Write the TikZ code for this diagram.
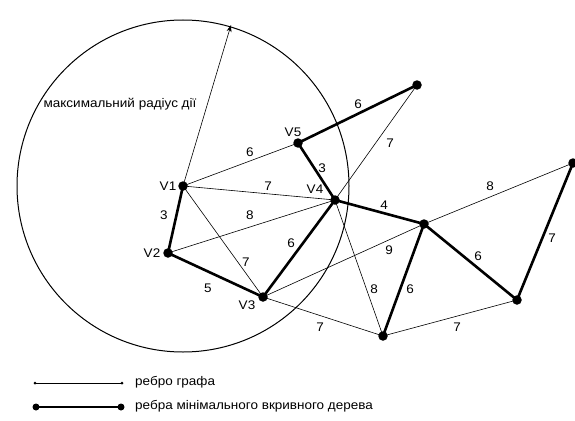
\documentclass[tikz,border=0pt]{standalone}
\usepackage{fontspec}
\setmainfont{Liberation Sans}[FakeStretch=1.08]
\usetikzlibrary{arrows.meta}
\begin{document}
\begin{tikzpicture}[x=1pt,y=-1pt,
  vert/.style={circle,fill=black,inner sep=0pt,minimum size=9.5pt},
  thin/.style={line width=0.6pt},
  thick/.style={line width=2.6pt},
  lbl/.style={font=\fontsize{12.5}{15}\selectfont,inner sep=1pt},
  every node/.style={font=\fontsize{12.5}{15}\selectfont}]
\useasboundingbox (0,0) rectangle (575,420);
% vertices
\node[vert] (v1) at (183,186) {};
\node[vert] (v2) at (168,253) {};
\node[vert] (v3) at (263,297) {};
\node[vert] (v4) at (335,200) {};
\node[vert] (v5) at (298,143) {};
\node[vert] (t) at (417,85) {};
\node[vert] (a) at (424,224) {};
\node[vert] (b) at (383,336) {};
\node[vert] (c) at (517,300) {};
\node[vert] (d) at (573,163) {};
% circle
\draw[line width=1pt] (v1.center) circle (166);
\coordinate (rtip) at (231,25);
\draw[thin,-{Stealth[length=7pt,width=5pt]}] (v1.center) -- (rtip);
\node[lbl] (rl) at (120,104) {максимальний радіус дії};
% thin edges
\draw[thin] (v1.center) -- (v5.center);
\draw[thin] (v1.center) -- (v4.center);
\draw[thin] (v1.center) -- (v3.center);
\draw[thin] (v2.center) -- (v4.center);
\draw[thin] (v4.center) -- (t.center);
\draw[thin] (v4.center) -- (b.center);
\draw[thin] (v3.center) -- (a.center);
\draw[thin] (v3.center) -- (b.center);
\draw[thin] (a.center) -- (d.center);
\draw[thin] (b.center) -- (c.center);
% thick edges
\draw[thick] (v1.center) -- (v2.center);
\draw[thick] (v2.center) -- (v3.center);
\draw[thick] (v3.center) -- (v4.center);
\draw[thick] (v4.center) -- (v5.center);
\draw[thick] (v5.center) -- (t.center);
\draw[thick] (v4.center) -- (a.center);
\draw[thick] (a.center) -- (b.center);
\draw[thick] (a.center) -- (c.center);
\draw[thick] (c.center) -- (d.center);
% weights
\node[lbl] (w1) at (250,152) {6};
\node[lbl] (w2) at (268,186) {7};
\node[lbl] (w3) at (164,215) {3};
\node[lbl] (w4) at (250,215) {8};
\node[lbl] (w5) at (246,262) {7};
\node[lbl] (w6) at (291,243) {6};
\node[lbl] (w7) at (208,288) {5};
\node[lbl] (w8) at (358,104) {6};
\node[lbl] (w9) at (390,143) {7};
\node[lbl] (w10) at (322,168) {3};
\node[lbl] (w11) at (384,205) {4};
\node[lbl] (w12) at (490,186) {8};
\node[lbl] (w13) at (389,250) {9};
\node[lbl] (w14) at (374,289) {8};
\node[lbl] (w15) at (410,289) {6};
\node[lbl] (w16) at (478,256) {6};
\node[lbl] (w17) at (552,238) {7};
\node[lbl] (w18) at (320,327) {7};
\node[lbl] (w19) at (457,327) {7};
% vertex names
\node[lbl] (n1) at (168,186) {V1};
\node[lbl] (n2) at (152,253) {V2};
\node[lbl] (n3) at (247,305) {V3};
\node[lbl] (n4) at (315,189) {V4};
\node[lbl] (n5) at (293,132) {V5};
% legend
\node[circle,fill=black,inner sep=0pt,minimum size=3pt] (la) at (35,383) {};
\node[circle,fill=black,inner sep=0pt,minimum size=3pt] (lb) at (122,383) {};
\draw[thin] (la.center) -- (lb.center);
\node[lbl,anchor=west] (lt1) at (134,382) {ребро графа};
\node[vert,minimum size=7pt] (lc) at (36,407) {};
\node[vert,minimum size=7pt] (ld) at (121,407) {};
\draw[thick] (lc.center) -- (ld.center);
\node[lbl,anchor=west] (lt2) at (134,406) {ребра мінімального вкривного дерева};
\end{tikzpicture}
\end{document}
